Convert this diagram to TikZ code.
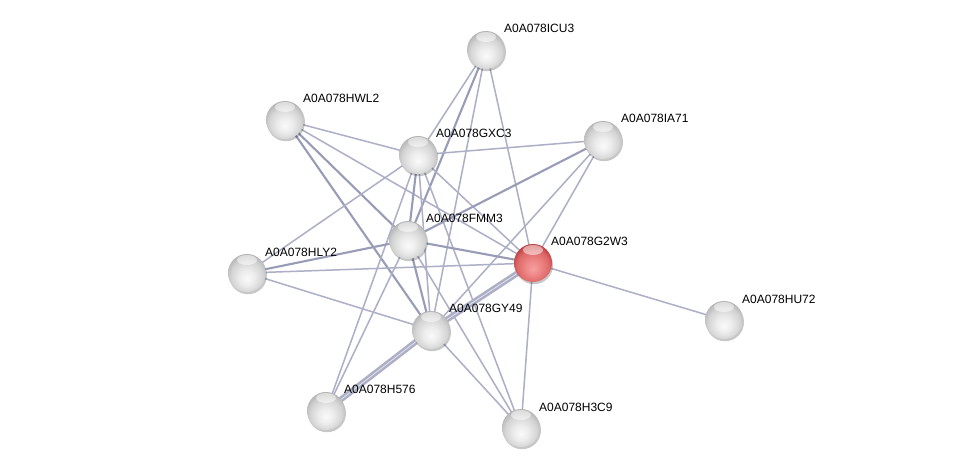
\documentclass[tikz,border=0pt]{standalone}
\usepackage{fontspec}
\setmainfont{Liberation Sans}
\definecolor{ecol}{RGB}{172,175,198}
\definecolor{ecolt}{RGB}{152,156,182}
\definecolor{gA}{RGB}{250,250,250}
\definecolor{gB}{RGB}{236,236,236}
\definecolor{gC}{RGB}{212,212,212}
\definecolor{gD}{RGB}{178,178,178}
\definecolor{gE}{RGB}{125,125,125}
\definecolor{rA}{RGB}{246,160,160}
\definecolor{rB}{RGB}{238,135,135}
\definecolor{rC}{RGB}{222,105,105}
\definecolor{rD}{RGB}{185,60,60}
\definecolor{rE}{RGB}{130,20,20}
\pgfdeclareradialshading{sgray}{\pgfpoint{0bp}{-8bp}}{color(0bp)=(gA); color(10bp)=(gB); color(21bp)=(gC); color(29bp)=(gD); color(33bp)=(gE); color(50bp)=(gE)}
\pgfdeclareradialshading{sred}{\pgfpoint{0bp}{-8bp}}{color(0bp)=(rA); color(10bp)=(rB); color(21bp)=(rC); color(29bp)=(rD); color(33bp)=(rE); color(50bp)=(rE)}
\pgfdeclarelayer{bg}
\pgfsetlayers{bg,main}
\begin{document}
\begin{tikzpicture}[x=1pt,y=-1pt,
  prot/.style={circle, minimum size=38pt, inner sep=0pt, shading=sgray,
    preaction={fill=black, fill opacity=0.22, transform canvas={shift={(1pt,-2.2pt)}}},
    path picture={\fill[white,opacity=0.5] ([yshift=-6pt]path picture bounding box.north) ellipse (10pt and 5pt);}},
  qprot/.style={prot, shading=sred},
  lab/.style={anchor=west, inner sep=0pt, font=\fontsize{12}{14}\selectfont},
  e/.style={draw=ecol, line width=1.5pt},
  et/.style={draw=ecolt, line width=2.1pt},
  ed/.style={draw=ecol, line width=2.6pt, double=white!80!ecol, double distance=0.6pt}
]
\useasboundingbox (0,0) rectangle (976,474);

\node[prot] (ICU3) at (486,50) {};
\node[prot] (HWL2) at (285,120) {};
\node[prot] (GXC3) at (418,155) {};
\node[prot] (IA71) at (603,140) {};
\node[prot] (FMM3) at (408,240) {};
\node[qprot] (G2W3) at (533,263) {};
\node[prot] (HLY2) at (247,273) {};
\node[prot] (GY49) at (431,330) {};
\node[prot] (H576) at (326,411) {};
\node[prot] (H3C9) at (521,428) {};
\node[prot] (HU72) at (724,320) {};

\node[lab] (lICU3) at (504,28) {A0A078ICU3};
\node[lab] (lHWL2) at (303,98) {A0A078HWL2};
\node[lab] (lGXC3) at (436,133) {A0A078GXC3};
\node[lab] (lIA71) at (621,118) {A0A078IA71};
\node[lab] (lFMM3) at (426,218) {A0A078FMM3};
\node[lab] (lG2W3) at (551,241) {A0A078G2W3};
\node[lab] (lHLY2) at (265,252) {A0A078HLY2};
\node[lab] (lGY49) at (449,308) {A0A078GY49};
\node[lab] (lH576) at (344,389) {A0A078H576};
\node[lab] (lH3C9) at (539,407) {A0A078H3C9};
\node[lab] (lHU72) at (742,299) {A0A078HU72};

\begin{pgfonlayer}{bg}
\fill[white] (0,0) rectangle (976,474);
\draw[e] (ICU3.center) -- (GXC3.center);
\draw[et] (ICU3.center) -- (FMM3.center);
\draw[e] (ICU3.center) -- (GY49.center);
\draw[e] (ICU3.center) -- (G2W3.center);
\draw[e] (HWL2.center) -- (GXC3.center);
\draw[e] (HWL2.center) -- (G2W3.center);
\draw[et] (HWL2.center) -- (FMM3.center);
\draw[et] (HWL2.center) -- (GY49.center);
\draw[e] (GXC3.center) -- (IA71.center);
\draw[e] (GXC3.center) -- (HLY2.center);
\draw[e] (GXC3.center) -- (G2W3.center);
\draw[e] (GXC3.center) -- (H3C9.center);
\draw[e] (GXC3.center) -- (H576.center);
\draw[et] (GXC3.center) -- (FMM3.center);
\draw[e] (GXC3.center) -- (GY49.center);
\draw[et] (IA71.center) -- (FMM3.center);
\draw[e] (IA71.center) -- (GY49.center);
\draw[e] (IA71.center) -- (G2W3.center);
\draw[et] (HLY2.center) -- (FMM3.center);
\draw[e] (HLY2.center) -- (G2W3.center);
\draw[e] (HLY2.center) -- (GY49.center);
\draw[et] (FMM3.center) -- (G2W3.center);
\draw[et] (FMM3.center) -- (GY49.center);
\draw[e] (FMM3.center) -- (H3C9.center);
\draw[e] (FMM3.center) -- (H576.center);
\draw[e] (G2W3.center) -- (HU72.center);
\draw[e] (G2W3.center) -- (H3C9.center);
\draw[ed] (G2W3.center) -- (GY49.center);
\draw[ed] (GY49.center) -- (H576.center);
\draw[e] (GY49.center) -- (H3C9.center);
\end{pgfonlayer}
\end{tikzpicture}
\end{document}
